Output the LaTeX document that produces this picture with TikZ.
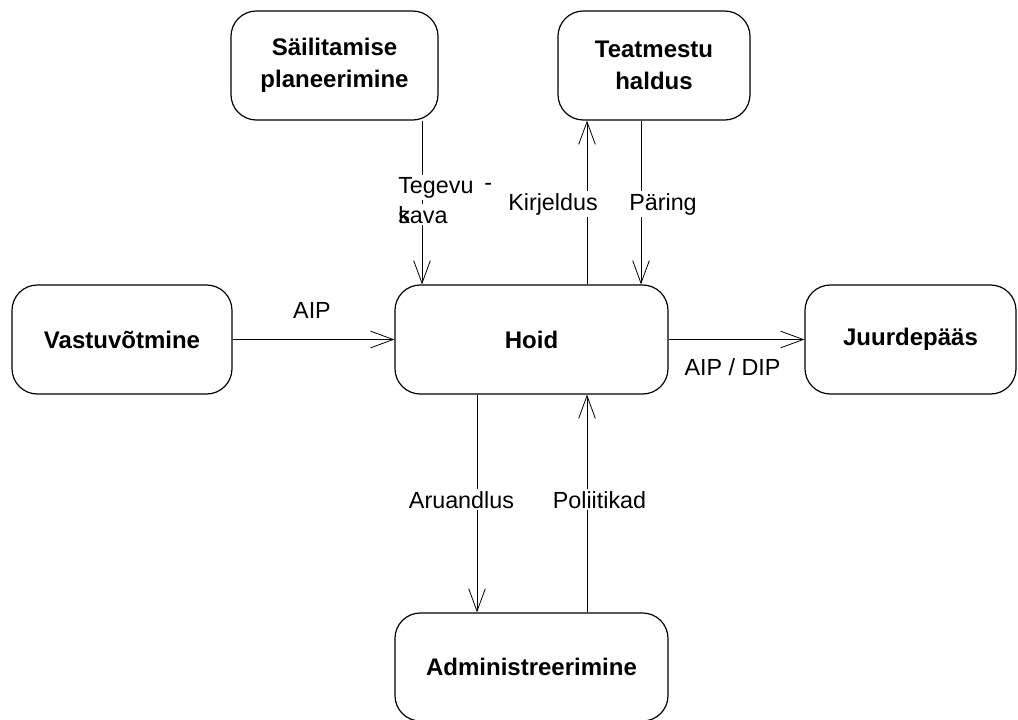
\documentclass[tikz,border=0pt]{standalone}
\usepackage{fontspec}
\setmainfont{Liberation Sans}
\usetikzlibrary{arrows.meta}
\begin{document}
\begin{tikzpicture}[x=0.75pt,y=-0.75pt,
  box/.style={draw,line width=0.9pt,rounded corners=19pt,
    font=\fontsize{18pt}{24pt}\selectfont\bfseries,align=center,
    inner sep=0pt},
  flow/.style={line width=0.6pt,-{Straight Barb[length=17pt,width=12.5pt,line width=0.6pt]}},
  lbl/.style={fill=white,inner sep=1.5pt,font=\fontsize{17.5pt}{20pt}\selectfont,anchor=base}]
\useasboundingbox (0,0) rectangle (1018,719);

% process boxes
\node[box,minimum width=155.25pt,minimum height=81.75pt] (sail) at (334.5,65.5) {Säilitamise\\planeerimine};
\node[box,minimum width=144pt,minimum height=81.75pt] (teat) at (654,65.5) {Teatmestu\\haldus};
\node[box,minimum width=165pt,minimum height=81.75pt] (vast) at (122,339.5) {Vastuvõtmine};
\node[box,minimum width=204.75pt,minimum height=81.75pt] (hoid) at (531.5,339.5) {Hoid};
\node[box,minimum width=158.25pt,minimum height=81.75pt] (juur) at (910.5,339.5) {Juurdepääs};
\node[box,minimum width=204.75pt,minimum height=81pt] (admin) at (531.5,667) {Administreerimine};

% vertical connector positions
\coordinate (c422) at (422,0);
\coordinate (c477) at (477,0);
\coordinate (c587) at (587,0);
\coordinate (c641) at (641,0);

% connectors
\draw[flow] (sail.south -| c422) -- (hoid.north -| c422);
\draw[flow] (hoid.north -| c587) -- (teat.south -| c587);
\draw[flow] (teat.south -| c641) -- (hoid.north -| c641);
\draw[flow] (vast.east) -- (hoid.west);
\draw[flow] (hoid.east) -- (juur.west);
\draw[flow] (hoid.south -| c477) -- (admin.north -| c477);
\draw[flow] (admin.north -| c587) -- (hoid.south -| c587);

% connector labels
\node[lbl] (laip) at (312,318) {AIP};
\node[lbl] (laipdip) at (732.5,375) {AIP / DIP};
\node[lbl] (laru) at (461.5,508) {Aruandlus};
\node[lbl] (lpol) at (599.5,508) {Poliitikad};
\node[lbl] (lkir) at (553,210) {Kirjeldus};
\node[lbl] (lpar) at (663,210) {Päring};
\node[lbl,anchor=base west] (lteg) at (396,193) {Tegevu};
\node[lbl,anchor=base west,inner sep=0pt] (ldash) at (484,190) {-};
\node[lbl,anchor=base west] (lkava) at (396,223) {kava};
\node[anchor=base west,inner sep=1.5pt,font=\fontsize{17.5pt}{20pt}\selectfont] (ls) at (396,223) {s};
\end{tikzpicture}
\end{document}
